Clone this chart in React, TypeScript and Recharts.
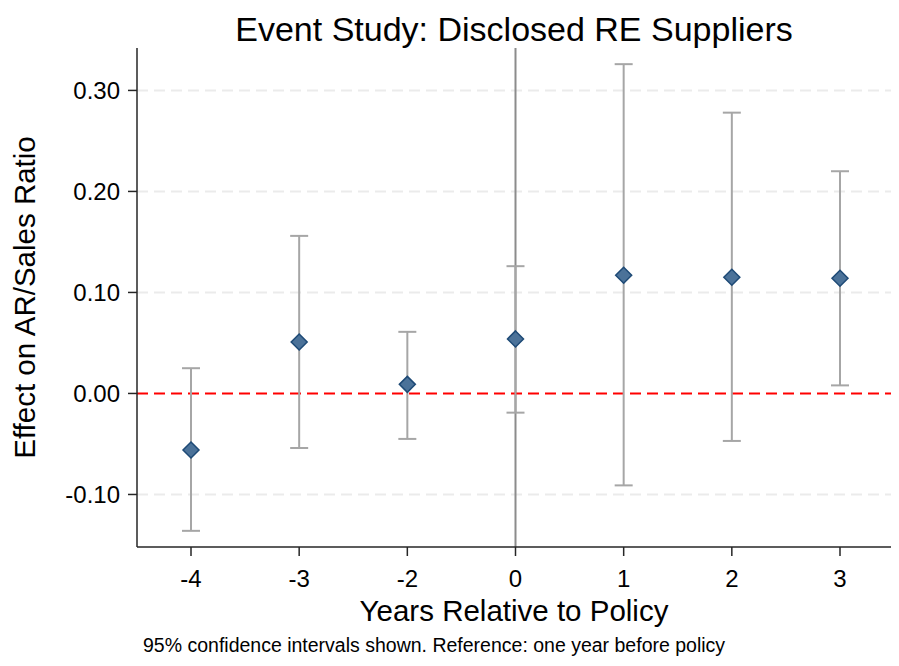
import {
  ComposedChart, Scatter, ErrorBar, XAxis, YAxis,
  ReferenceLine, Label,
} from 'recharts';

// event-time categories (year -1 is the omitted reference)
const years = ['-4', '-3', '-2', '0', '1', '2', '3'];
const estimates = [-0.056, 0.051, 0.009, 0.054, 0.117, 0.115, 0.114];
const ciLow = [-0.136, -0.054, -0.045, -0.019, -0.091, -0.047, 0.008];
const ciHigh = [0.025, 0.156, 0.061, 0.126, 0.326, 0.278, 0.220];
const yTicks = [-0.1, 0, 0.1, 0.2, 0.3];

const FONT = '"Liberation Sans", Arial, Helvetica, sans-serif';

const data = years.map((year, i) => ({
  year,
  coef: estimates[i],
  err: [estimates[i] - ciLow[i], ciHigh[i] - estimates[i]],
}));

function Diamond(props: any) {
  const { cx, cy } = props;
  if (cx == null || cy == null) return null;
  const r = 8;
  return (
    <path
      d={`M${cx},${cy - r}L${cx + r},${cy}L${cx},${cy + r}L${cx - r},${cy}Z`}
      fill="#4b7299"
      stroke="#1e4a76"
      strokeWidth={1.5}
    />
  );
}

export default function App() {
  return (
    <div style={{ position: 'absolute', left: 0, top: 0, width: 899, height: 666, background: '#fff', fontFamily: FONT }}>
      <ComposedChart
        width={899}
        height={666}
        data={data}
        margin={{ top: 48, right: 8, bottom: 0, left: 0 }}
        style={{ fontFamily: FONT }}
      >
        <XAxis
          dataKey="year"
          type="category"
          height={119}
          padding={{ left: 54, right: 51 }}
          tickSize={9}
          tickMargin={14}
          tick={{ fontSize: 24, fill: '#000' }}
          axisLine={{ stroke: '#262626', strokeWidth: 1.5 }}
          tickLine={{ stroke: '#262626', strokeWidth: 1.5 }}
        >
          <Label
            value="Years Relative to Policy"
            position="insideTop"
            offset={53}
            style={{ fontSize: 29.5, fill: '#000' }}
          />
        </XAxis>
        <YAxis
          type="number"
          width={137}
          domain={[-0.152, 0.342]}
          ticks={yTicks}
          allowDataOverflow
          tickFormatter={(v: number) => v.toFixed(2)}
          tickSize={9}
          tickMargin={8}
          tick={{ fontSize: 24, fill: '#000' }}
          axisLine={{ stroke: '#262626', strokeWidth: 1.5 }}
          tickLine={{ stroke: '#262626', strokeWidth: 1.5 }}
        >
          <Label
            value="Effect on AR/Sales Ratio"
            angle={-90}
            position="insideLeft"
            offset={25}
            style={{ fontSize: 29.5, fill: '#000', textAnchor: 'middle' }}
          />
        </YAxis>
        {yTicks.filter((t) => t !== 0).map((t) => (
          <ReferenceLine key={t} y={t} stroke="#ebebeb" strokeWidth={2} strokeDasharray="11 6" />
        ))}
        <ReferenceLine x="0" stroke="#8c8c8c" strokeWidth={2} />
        <ReferenceLine y={0} stroke="#ff0000" strokeWidth={2} strokeDasharray="11 6" />
        <Scatter dataKey="coef" shape={Diamond} isAnimationActive={false}>
          <ErrorBar dataKey="err" direction="y" width={9} stroke="#a6a6a6" strokeWidth={2} />
        </Scatter>
      </ComposedChart>
      <div style={{ position: 'absolute', left: 137, width: 754, top: 9, textAlign: 'center', fontSize: 34, color: '#000', lineHeight: '40px' }}>
        Event Study: Disclosed RE Suppliers
      </div>
      <div style={{ position: 'absolute', left: 143, top: 634, fontSize: 19.5, color: '#000', whiteSpace: 'nowrap' }}>
        95% confidence intervals shown. Reference: one year before policy
      </div>
    </div>
  );
}
